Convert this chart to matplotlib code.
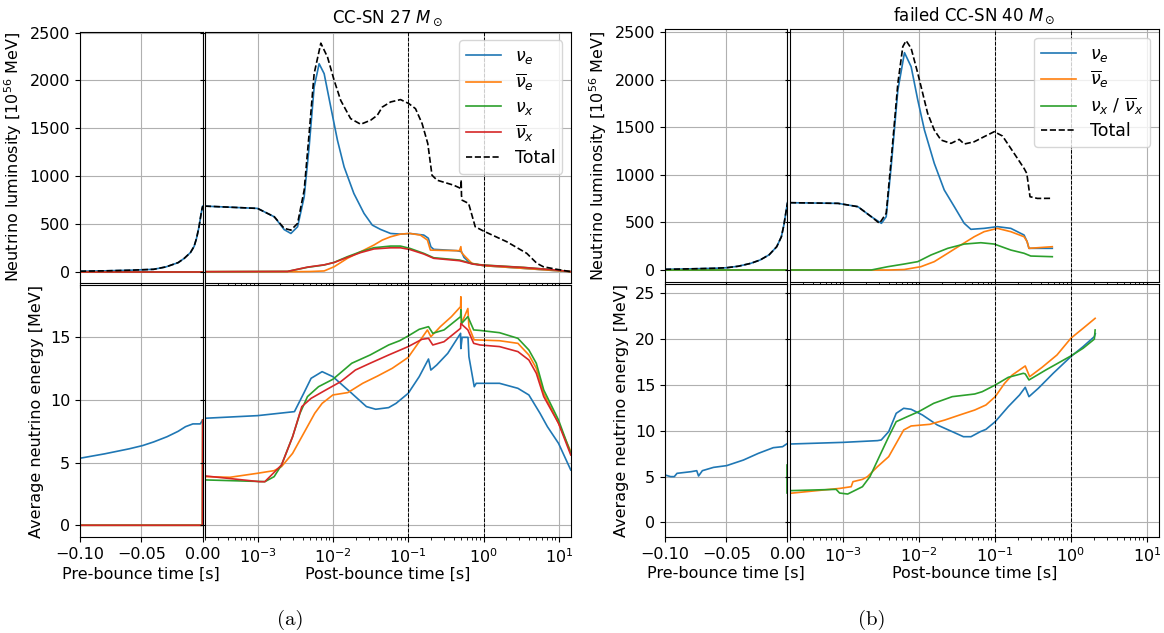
import numpy as np
import matplotlib.pyplot as plt
from matplotlib.ticker import FuncFormatter

# ---- panel (a): CC-SN 27 Msun ----
# luminosity, pre-bounce [s] / [1e56 MeV]
a_pre_t = [-0.1, -0.08, -0.06, -0.04, -0.03, -0.02, -0.015, -0.01, -0.007, -0.005, -0.003, -0.0015, -0.0005, 0.0]
a_pre_nue = [5, 9, 15, 25, 50, 95, 140, 200, 265, 350, 470, 590, 660, 686]
a_pre_zero_t = [-0.1, 0.0]
a_pre_zero = [0, 0]

# luminosity, post-bounce
a_tot_t = [2e-4, 1e-3, 1.67e-3, 2.26e-3, 2.77e-3, 3.4e-3, 4.16e-3, 4.84e-3, 5.64e-3, 6.92e-3,
           8.49e-3, 1.04e-2, 1.27e-2, 1.72e-2, 2.34e-2, 3.17e-2, 3.89e-2, 4.53e-2, 5.83e-2, 7.91e-2,
           0.102, 0.125, 0.153, 0.182, 0.207, 0.242, 0.401, 0.502, 0.505, 0.51, 0.52, 0.634, 0.776,
           1.0, 2.04, 3.75, 5.1, 6.22, 9.35, 14.5]
a_tot = [686, 662, 574, 453, 435, 505, 853, 1445, 2071, 2390,
         2244, 2001, 1792, 1601, 1542, 1584, 1636, 1722, 1775, 1800,
         1758, 1705, 1549, 1340, 1009, 957, 905, 870, 960, 795, 748, 714, 470,
         425, 313, 192, 88, 52, 25, 0]
a_nue_t = [2e-4, 1e-3, 1.67e-3, 2.26e-3, 2.77e-3, 3.4e-3, 4.16e-3, 4.84e-3, 5.64e-3, 6.57e-3,
           7.66e-3, 9.38e-3, 1.15e-2, 1.41e-2, 1.9e-2, 2.59e-2, 3.34e-2, 4.3e-2, 5.83e-2, 7.91e-2,
           0.105, 0.161, 0.185, 0.2, 0.218, 0.44, 0.51, 0.55, 0.667, 1.0, 3.38, 14.5]
a_nue = [686, 662, 574, 440, 400, 470, 783, 1305, 1931, 2175,
         2071, 1722, 1375, 1096, 818, 610, 487, 442, 400, 393,
         400, 383, 350, 260, 234, 220, 210, 150, 88, 63, 35, 0]
a_anue_t = [2e-4, 3e-3, 5e-3, 7.66e-3, 1.04e-2, 1.56e-2, 2.34e-2, 3.51e-2, 4.53e-2, 5.83e-2,
            7.9e-2, 0.105, 0.145, 0.18, 0.197, 0.3, 0.48, 0.5, 0.51, 0.573, 0.7, 1.0, 3.38, 14.5]
a_anue = [0, 0, 2, 8, 52, 140, 209, 279, 331, 365,
          393, 400, 383, 331, 226, 222, 220, 262, 200, 157, 88, 63, 35, 0]
a_nux_t = [2e-4, 2.5e-3, 4.61e-3, 7.66e-3, 1.04e-2, 1.56e-2, 2.34e-2, 3.51e-2, 5.83e-2, 7.9e-2,
           0.105, 0.161, 0.218, 0.48, 0.74, 1.0, 3.4, 9.35, 14.5]
a_nux = [0, 3, 46, 70, 98, 157, 209, 251, 268, 268, 244, 192, 146, 122, 80, 70, 45, 17, 0]
a_anux = [0, 3, 48, 72, 96, 150, 200, 238, 250, 250, 232, 185, 140, 115, 78, 68, 44, 17, 0]

# mean energy, pre-bounce [MeV]
a_pre_e_t = [-0.1, -0.08, -0.06, -0.049, -0.04, -0.029, -0.02, -0.014, -0.008, -0.002, 0.0]
a_pre_e_nue = [5.35, 5.7, 6.1, 6.36, 6.65, 7.07, 7.5, 7.87, 8.09, 8.09, 8.4]
a_pre_e_other_t = [-0.1, -0.0002, 0.0]
a_pre_e_other = [0, 0, 8.4]

# mean energy, post-bounce
a_e_nue_t = [2e-4, 1e-3, 3.09e-3, 4.1e-3, 5.14e-3, 7.2e-3, 1e-2, 1.78e-2, 2.79e-2, 3.7e-2,
             5.5e-2, 6.9e-2, 0.1, 0.14, 0.186, 0.2, 0.239, 0.335, 0.496, 0.5,
             0.52, 0.622, 0.64, 0.753, 0.8, 1.63, 2.86, 4.0, 5.62, 7.05, 9.9, 14.4]
a_e_nue = [8.54, 8.75, 9.07, 10.53, 11.73, 12.26, 11.86, 10.53, 9.47, 9.26,
           9.39, 9.73, 10.53, 11.86, 13.27, 12.39, 12.79, 13.72, 15.32, 14.1,
           15.0, 15.0, 13.46, 11.06, 11.33, 11.33, 10.93, 10.4, 8.94, 7.87, 6.54, 4.41]
a_e_anue_t = [2e-4, 4.3e-4, 1e-3, 1.66e-3, 2.08e-3, 2.92e-3, 4.1e-3, 5.75e-3, 7.2e-3, 1e-2,
              1.58e-2, 2.49e-2, 3.92e-2, 6.15e-2, 7.7e-2, 0.1, 0.14, 0.18, 0.2, 0.267,
              0.375, 0.496, 0.5, 0.51, 0.62, 0.64, 0.75, 1.63, 2.86, 4.0, 5.02, 6.3, 9.9, 14.4]
a_e_anue = [3.88, 3.83, 4.15, 4.36, 4.68, 5.74, 7.34, 8.94, 9.73, 10.4,
            10.59, 11.33, 11.91, 12.53, 12.93, 13.4, 14.65, 15.59, 15.05, 15.85,
            16.65, 17.45, 18.24, 16.1, 17.3, 15.85, 14.8, 14.73, 14.52, 13.59, 12.53, 10.53, 8.14, 5.88]
a_e_nux_t = [2e-4, 1e-3, 1.25e-3, 1.66e-3, 2.08e-3, 2.92e-3, 3.66e-3, 4.6e-3, 6.45e-3, 1e-2,
             1.78e-2, 3.12e-2, 5.5e-2, 7.7e-2, 0.1, 0.14, 0.186, 0.212, 0.299, 0.496,
             0.5, 0.51, 0.62, 0.74, 0.9, 1.63, 2.86, 4.0, 5.02, 6.3, 9.9, 14.4]
a_e_nux = [3.62, 3.5, 3.48, 3.88, 4.81, 7.07, 8.94, 10.27, 11.06, 11.65,
           12.93, 13.59, 14.39, 14.73, 15.11, 15.64, 15.85, 15.32, 15.59, 16.65,
           17.2, 16.1, 16.65, 15.59, 15.55, 15.37, 14.92, 13.99, 12.93, 10.8, 8.4, 5.74]
a_e_anux_t = [2e-4, 1.06e-3, 1.25e-3, 2.08e-3, 2.92e-3, 3.87e-3, 5.14e-3, 8.07e-3, 1.27e-2, 1.99e-2,
              3.12e-2, 5.5e-2, 0.1, 0.152, 0.186, 0.212, 0.299, 0.496, 0.5, 0.62,
              0.74, 0.9, 1.63, 2.86, 4.0, 5.02, 6.3, 9.9, 14.4]
a_e_anux = [3.94, 3.48, 3.48, 4.81, 7.07, 9.47, 10.13, 10.8, 11.46, 12.39,
            12.93, 13.59, 14.26, 14.84, 14.92, 14.39, 14.65, 15.72, 16.1, 15.59,
            14.52, 14.39, 14.26, 13.86, 13.19, 12.13, 10.27, 8.14, 5.61]

# ---- panel (b): failed CC-SN 40 Msun ----
b_pre_t = [-0.1, -0.08, -0.06, -0.0497, -0.04, -0.03, -0.0224, -0.015, -0.0088, -0.005, -0.003, -0.0015, -0.0005, 0.0]
b_pre_nue = [7, 12, 18, 24, 40, 70, 105, 160, 245, 350, 470, 590, 670, 708]
b_pre_zero_t = [-0.1, 0.0]
b_pre_zero = [0, 0]

b_tot_t = [2e-4, 8.6e-4, 1.57e-3, 2.35e-3, 3.02e-3, 3.7e-3, 4.3e-3, 5.27e-3, 6.12e-3, 6.77e-3,
           7.88e-3, 9.64e-3, 1.3e-2, 1.59e-2, 1.95e-2, 2.64e-2, 3.39e-2, 3.94e-2, 5.34e-2, 7.2e-2,
           9.8e-2, 0.126, 0.179, 0.242, 0.263, 0.29, 0.363, 0.57]
b_tot = [708, 701, 666, 561, 491, 596, 1157, 1964, 2349, 2412,
         2332, 2069, 1648, 1472, 1367, 1332, 1374, 1325, 1349, 1402,
         1455, 1409, 1227, 1069, 1016, 771, 753, 754]
b_nue_t = [2e-4, 8.6e-4, 1.57e-3, 2.35e-3, 3.2e-3, 3.7e-3, 4.3e-3, 5.27e-3, 6.44e-3, 7.88e-3,
           9.64e-3, 1.18e-2, 1.59e-2, 2.15e-2, 2.92e-2, 3.94e-2, 4.83e-2, 7.2e-2, 0.108, 0.162,
           0.242, 0.265, 0.281, 0.57]
b_nue = [708, 701, 666, 561, 491, 561, 1087, 1893, 2286, 2139,
         1788, 1472, 1122, 842, 666, 491, 428, 438, 456, 438,
         368, 300, 228, 228]
b_anue_t = [2e-4, 4e-3, 6.4e-3, 1.06e-2, 1.59e-2, 2.39e-2, 3.56e-2, 5.34e-2, 7.2e-2, 0.108,
            0.162, 0.242, 0.265, 0.281, 0.57]
b_anue = [0, 0, 5, 35, 88, 176, 263, 350, 403, 438, 403, 350, 300, 228, 245]
b_nux_t = [2e-4, 2.35e-3, 3.89e-3, 6.4e-3, 9.64e-3, 1.44e-2, 2.39e-2, 3.94e-2, 6.53e-2, 9.8e-2,
           0.162, 0.242, 0.297, 0.57]
b_nux = [0, 0, 35, 63, 88, 158, 228, 273, 287, 273, 210, 176, 147, 140]

b_pre_e_t = [-0.1, -0.0954, -0.0924, -0.0902, -0.0787, -0.0741, -0.0726, -0.0695, -0.0604, -0.0497,
             -0.036, -0.0238, -0.0116, -0.004, 0.0]
b_pre_e_nue = [5.17, 4.99, 4.99, 5.35, 5.53, 5.64, 5.06, 5.64, 6.0, 6.19,
               6.8, 7.53, 8.15, 8.26, 8.62]
b_pre_e_nux_t = [0.0, 0.0]
b_pre_e_nux = [6.3, 3.2]

b_e_nue_t = [2e-4, 1e-3, 2.84e-3, 3.18e-3, 3.99e-3, 5.01e-3, 6.29e-3, 7.88e-3, 1.11e-2, 1.74e-2,
             2.74e-2, 3.85e-2, 4.84e-2, 6.43e-2, 7.62e-2, 0.101, 0.15, 0.211, 0.251, 0.281,
             0.373, 0.586, 1.0, 1.45, 2.04, 2.1]
b_e_nue = [8.55, 8.73, 8.92, 8.99, 9.9, 11.9, 12.45, 12.34, 11.72, 10.63,
           9.9, 9.35, 9.35, 9.9, 10.15, 10.99, 12.63, 13.9, 14.74, 13.72,
           14.63, 16.27, 18.09, 19.18, 20.27, 20.6]
b_e_anue_t = [2e-4, 9.1e-4, 1.28e-3, 1.35e-3, 1.8e-3, 2.1e-3, 2.84e-3, 3.99e-3, 5.01e-3, 6.29e-3,
              7.88e-3, 1.39e-2, 2.19e-2, 3.44e-2, 5.42e-2, 7.62e-2, 0.101, 0.134, 0.169, 0.251,
              0.287, 0.418, 0.657, 1.0, 1.45, 2.09]
b_e_anue = [3.17, 3.71, 3.89, 4.44, 4.69, 4.99, 6.08, 7.17, 8.62, 10.08,
            10.52, 10.7, 11.17, 11.72, 12.26, 12.81, 13.72, 15.17, 16.08, 17.07,
            15.9, 16.92, 18.27, 20.09, 21.18, 22.27]
b_e_nux_t = [2e-4, 8.1e-4, 9e-4, 1.15e-3, 1.8e-3, 2.26e-3, 3.0e-3, 3.99e-3, 5.01e-3, 7.03e-3,
             9.89e-3, 1.56e-2, 2.74e-2, 5.42e-2, 6.8e-2, 0.101, 0.15, 0.237, 0.251, 0.281,
             0.468, 1.0, 1.45, 2.04, 2.09]
b_e_nux = [3.46, 3.6, 3.2, 3.09, 3.89, 4.99, 7.17, 9.35, 10.99, 11.54,
           12.08, 12.99, 13.72, 14.01, 14.26, 14.99, 15.83, 16.27, 16.2, 15.54,
           16.63, 18.16, 19.0, 20.0, 21.0]

# ---- figure ----
W, H = 1164, 633
FS = 11.5
LW = 1.2
plt.rcParams['font.size'] = FS
fig = plt.figure(figsize=(W / 100, H / 100), dpi=100)


def add_ax(x0, x1, y0, y1, **kw):
    # pixel box (from top-left) -> figure fraction
    return fig.add_axes([x0 / W, 1 - y1 / H, (x1 - x0) / W, (y1 - y0) / H], **kw)


minus_fmt = FuncFormatter(lambda v, pos: f'{v:.2f}'.replace('-', '\u2212'))


def style_pre(ax, bottom):
    ax.set_xlim(-0.1, 0.0)
    ax.set_xticks([-0.1, -0.05, 0.0])
    ax.xaxis.set_major_formatter(minus_fmt)
    ax.grid(True)
    if bottom:
        ax.set_xlabel('Pre-bounce time [s]')
        ax.xaxis.set_label_coords(0.5, -0.115)
    else:
        ax.tick_params(labelbottom=False)


def style_post(ax, bottom):
    ax.set_xscale('log')
    ax.set_xlim(2e-4, 14.5)
    ax.grid(True)
    ax.axvline(0.1, color='k', ls='--', lw=0.7)
    ax.axvline(1.0, color='k', ls='--', lw=0.7)
    ax.tick_params(labelleft=False)
    if bottom:
        ax.set_xlabel('Post-bounce time [s]')
        ax.xaxis.set_label_coords(0.5, -0.115)
    else:
        ax.tick_params(labelbottom=False)


# panel (a)
a_tl = add_ax(80, 202.7, 31.7, 282.7)
a_tr = add_ax(204.9, 571, 31.7, 282.7, sharey=a_tl)
a_bl = add_ax(80, 202.7, 284.7, 537.3)
a_br = add_ax(204.9, 571, 284.7, 537.3, sharey=a_bl)

a_tl.plot(a_pre_t, a_pre_nue, color='C0', lw=LW)
a_tl.plot(a_pre_zero_t, a_pre_zero, color='C1', lw=LW)
a_tl.plot(a_pre_zero_t, a_pre_zero, color='C2', lw=LW)
a_tl.plot(a_pre_zero_t, a_pre_zero, color='C3', lw=LW)
a_tl.plot(a_pre_t, a_pre_nue, color='k', ls='--', lw=LW)

a_tr.plot(a_nue_t, a_nue, color='C0', lw=LW, label=r'$\nu_e$')
a_tr.plot(a_anue_t, a_anue, color='C1', lw=LW, label=r'$\overline{\nu}_e$')
a_tr.plot(a_nux_t, a_nux, color='C2', lw=LW, label=r'$\nu_x$')
a_tr.plot(a_nux_t, a_anux, color='C3', lw=LW, label=r'$\overline{\nu}_x$')
a_tr.plot(a_tot_t, a_tot, color='k', ls='--', lw=LW, label='Total')
a_tr.legend(loc='upper right', fontsize=12.5, labelspacing=0.3)
a_tr.set_title(r'CC-SN 27 $M_\odot$', fontsize=12)

a_bl.plot(a_pre_e_t, a_pre_e_nue, color='C0', lw=LW)
a_bl.plot(a_pre_e_other_t, a_pre_e_other, color='C1', lw=LW)
a_bl.plot(a_pre_e_other_t, a_pre_e_other, color='C2', lw=LW)
a_bl.plot(a_pre_e_other_t, a_pre_e_other, color='C3', lw=LW)

a_br.plot(a_e_nue_t, a_e_nue, color='C0', lw=LW)
a_br.plot(a_e_anue_t, a_e_anue, color='C1', lw=LW)
a_br.plot(a_e_nux_t, a_e_nux, color='C2', lw=LW)
a_br.plot(a_e_anux_t, a_e_anux, color='C3', lw=LW)

a_tl.set_ylim(-115, 2510)
a_bl.set_ylim(-0.96, 19.2)
a_tl.set_ylabel(r'Neutrino luminosity [10$^{56}$ MeV]')
a_bl.set_ylabel('Average neutrino energy [MeV]')

# panel (b)
b_tl = add_ax(665, 787.5, 29, 281.7)
b_tr = add_ax(790, 1159, 29, 281.7, sharey=b_tl)
b_bl = add_ax(665, 787.5, 283.7, 537)
b_br = add_ax(790, 1159, 283.7, 537, sharey=b_bl)

b_tl.plot(b_pre_t, b_pre_nue, color='C0', lw=LW)
b_tl.plot(b_pre_zero_t, b_pre_zero, color='C1', lw=LW)
b_tl.plot(b_pre_zero_t, b_pre_zero, color='C2', lw=LW)
b_tl.plot(b_pre_t, b_pre_nue, color='k', ls='--', lw=LW)

b_tr.plot(b_nue_t, b_nue, color='C0', lw=LW, label=r'$\nu_e$')
b_tr.plot(b_anue_t, b_anue, color='C1', lw=LW, label=r'$\overline{\nu}_e$')
b_tr.plot(b_nux_t, b_nux, color='C2', lw=LW, label=r'$\nu_x$ / $\overline{\nu}_x$')
b_tr.plot(b_tot_t, b_tot, color='k', ls='--', lw=LW, label='Total')
b_tr.legend(loc='upper right', fontsize=12.5, labelspacing=0.3)
b_tr.set_title(r'failed CC-SN 40 $M_\odot$', fontsize=12)

b_bl.plot(b_pre_e_t, b_pre_e_nue, color='C0', lw=LW)
b_bl.plot(b_pre_e_nux_t, b_pre_e_nux, color='C2', lw=LW)

b_br.plot(b_e_nue_t, b_e_nue, color='C0', lw=LW)
b_br.plot(b_e_anue_t, b_e_anue, color='C1', lw=LW)
b_br.plot(b_e_nux_t, b_e_nux, color='C2', lw=LW)

b_tl.set_ylim(-123, 2535)
b_bl.set_ylim(-1.6, 26.05)
b_tl.set_ylabel(r'Neutrino luminosity [10$^{56}$ MeV]')
b_bl.set_ylabel('Average neutrino energy [MeV]')

for ax in (a_tl, b_tl):
    style_pre(ax, False)
for ax in (a_bl, b_bl):
    style_pre(ax, True)
for ax in (a_tr, b_tr):
    style_post(ax, False)
for ax in (a_br, b_br):
    style_post(ax, True)

fig.text(290 / W, 1 - 620 / H, '(a)', ha='center', va='center', fontsize=15, family='cmr10')
fig.text(872 / W, 1 - 620 / H, '(b)', ha='center', va='center', fontsize=15, family='cmr10')

fig.savefig('out.png', dpi=100)
